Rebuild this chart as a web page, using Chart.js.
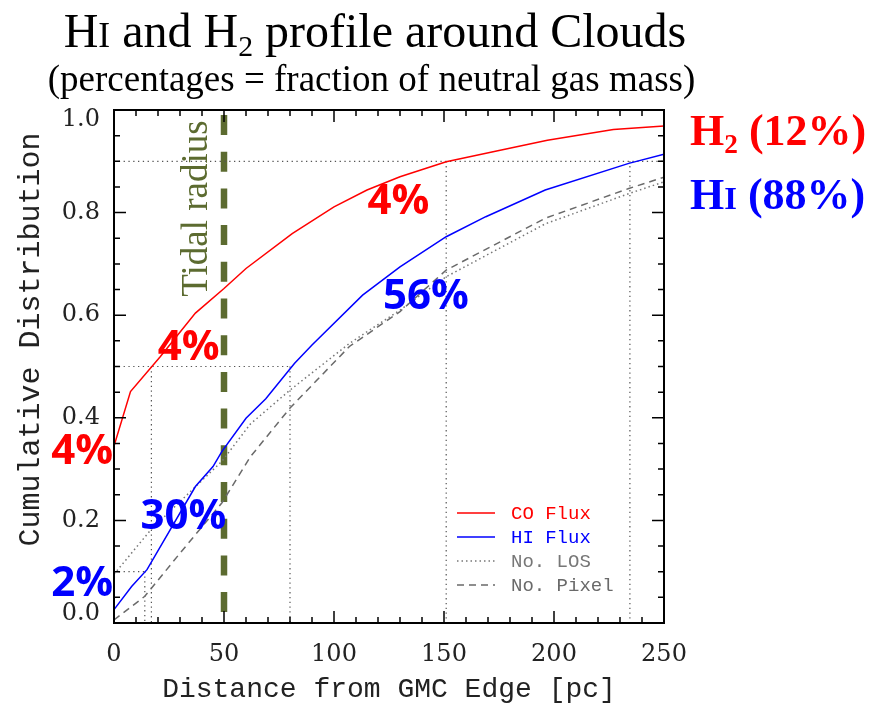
<!DOCTYPE html>
<html>
<head>
<meta charset="utf-8">
<script src="https://cdn.jsdelivr.net/npm/chart.js@4"></script>
<style>
  body { margin: 0; background: #fff; }
  #wrap { position: relative; width: 888px; height: 706px; }
  #chart { position: absolute; left: 0; top: 0; }
  .txt { position: absolute; white-space: nowrap; font-family: 'Liberation Serif', serif; line-height: 1; }
  .sc { font-size: 0.74em; }
  sub { font-size: 0.62em; line-height: 0; vertical-align: -0.3em; }
</style>
</head>
<body>
<div id="wrap">
  <canvas id="chart" width="888" height="706"></canvas>
  <div class="txt" style="left:0; width:750px; text-align:center; top:7px; font-size:48px">H<span class="sc">I</span> and H<sub>2</sub> profile around Clouds</div>
  <div class="txt" style="left:0; width:743px; text-align:center; top:60px; font-size:37px">(percentages = fraction of neutral gas mass)</div>
  <div class="txt" style="left:690px; top:109px; font-size:44px; font-weight:bold; color:#f00">H<sub>2</sub> (12%)</div>
  <div class="txt" style="left:690px; top:173px; font-size:44px; font-weight:bold; color:#00f">H<span class="sc">I</span> (88%)</div>
</div>
<script>
// cumulative distributions vs distance from GMC edge [pc]
const coX = [0, 7.5, 21, 37, 50, 60, 81, 100, 115, 130, 151, 175, 197, 227, 250]
const coY = [0.345, 0.451, 0.519, 0.604, 0.652, 0.691, 0.759, 0.811, 0.844, 0.870, 0.899, 0.921, 0.941, 0.962, 0.969]

const hiX = [0, 8, 15, 37, 45, 49, 60, 69, 76, 82, 90, 113, 130, 151, 169, 196, 234, 250]
const hiY = [0.026, 0.071, 0.104, 0.266, 0.305, 0.334, 0.399, 0.437, 0.474, 0.506, 0.542, 0.639, 0.694, 0.753, 0.792, 0.844, 0.896, 0.914]

const losX = [0, 17, 49, 62, 80, 107, 130, 151, 196, 234, 250]
const losY = [0.095, 0.183, 0.315, 0.388, 0.454, 0.545, 0.610, 0.675, 0.778, 0.837, 0.860]

const pixX = [0, 14, 30, 49, 62, 80, 107, 130, 151, 196, 234, 250]
const pixY = [0.006, 0.052, 0.136, 0.234, 0.324, 0.419, 0.539, 0.607, 0.688, 0.789, 0.847, 0.869]

// 10/50/90% levels and where the flux curves cross them
const levels = [0.1, 0.5, 0.9]
const levelEnds = [14, 80, 250]
const coCross = [null, 17, 151]
const hiCross = [14, 80, 234.5]

const tidalRadius = 50

// mass fractions written on the curves
const coShares = ['4%', '4%', '4%']
const hiShares = ['2%', '30%', '56%']

// where the fraction labels sit, in data units
const coSharePos = [[-14.5, 0.334], [33.9, 0.536], [129.3, 0.82]]
const hiSharePos = [[-14.5, 0.075], [31.6, 0.207], [141.8, 0.635]]

const pts = (xs, ys) => xs.map((x, i) => ({x: x, y: ys[i]}))

const red = '#ff0000'
const blue = '#0000ff'
const grey = '#777777'
const olive = '#5c6b30'

let datasets = [
  {label: 'CO Flux', data: pts(coX, coY), borderColor: red, borderWidth: 1.5},
  {label: 'HI Flux', data: pts(hiX, hiY), borderColor: blue, borderWidth: 1.5},
  {label: 'No. LOS', data: pts(losX, losY), borderColor: grey, borderWidth: 1.5, borderDash: [1.5, 3]},
  {label: 'No. Pixel', data: pts(pixX, pixY), borderColor: '#6a6a6a', borderWidth: 1.5, borderDash: [7, 5]},
]

// dotted guide lines at each level
let guides = []
levels.forEach((lv, i) => {
  guides.push([{x: 0, y: lv}, {x: levelEnds[i], y: lv}])
  ;[coCross[i], hiCross[i]].forEach(c => {
    if(c != null) guides.push([{x: c, y: lv}, {x: c, y: 0}])
  })
})
guides.forEach(g => {
  datasets.push({label: '', data: g, borderColor: '#555', borderWidth: 1.2, borderDash: [1.3, 3.5]})
})

// tidal radius
datasets.push({
  label: 'Tidal radius',
  data: [{x: tidalRadius, y: 1}, {x: tidalRadius, y: 0}],
  borderColor: olive, borderWidth: 6.5, borderDash: [20, 16.7], borderDashOffset: 31.7
})

const innerTicks = {
  id: 'innerTicks',
  afterDraw(chart) {
    const {ctx, chartArea: a, scales} = chart
    ctx.save()
    ctx.strokeStyle = '#000'
    ctx.lineWidth = 2
    ctx.strokeRect(a.left, a.top, a.right - a.left, a.bottom - a.top)
    ctx.lineWidth = 1.5
    ctx.beginPath()
    scales.x.ticks.forEach(t => {
      let px = scales.x.getPixelForValue(t.value)
      let len = t.value % 50 === 0 ? 12 : 6
      ctx.moveTo(px, a.bottom); ctx.lineTo(px, a.bottom - len)
      ctx.moveTo(px, a.top); ctx.lineTo(px, a.top + len)
    })
    scales.y.ticks.forEach(t => {
      let py = scales.y.getPixelForValue(t.value)
      let len = Math.round(t.value * 100) % 20 === 0 ? 12 : 6
      ctx.moveTo(a.left, py); ctx.lineTo(a.left + len, py)
      ctx.moveTo(a.right, py); ctx.lineTo(a.right - len, py)
    })
    ctx.stroke()
    ctx.restore()
  }
}

const labelsPlugin = {
  id: 'labelsPlugin',
  afterDatasetsDraw(chart) {
    const {ctx, chartArea: a, scales} = chart
    ctx.save()

    // legend, lower right inside the frame
    let lx = a.right - 207, ly = a.bottom - 110
    chart.data.datasets.slice(0, 4).forEach((ds, i) => {
      let y = ly + i * 24
      ctx.strokeStyle = ds.borderColor
      ctx.lineWidth = 1.5
      ctx.setLineDash(ds.borderDash || [])
      ctx.beginPath(); ctx.moveTo(lx, y); ctx.lineTo(lx + 38, y); ctx.stroke()
      ctx.setLineDash([])
      ctx.fillStyle = ds.borderColor
      ctx.font = '19px "Liberation Mono"'
      ctx.textAlign = 'left'
      ctx.textBaseline = 'middle'
      ctx.fillText(ds.label, lx + 54, y + 1)
    })

    // tidal radius label
    ctx.fillStyle = olive
    ctx.font = '37px "Liberation Serif"'
    ctx.translate(scales.x.getPixelForValue(tidalRadius) - 17.5, scales.y.getPixelForValue(0.636))
    ctx.rotate(-Math.PI / 2)
    ctx.textAlign = 'left'
    ctx.textBaseline = 'alphabetic'
    ctx.fillText('Tidal radius', 0, 0)
    ctx.setTransform(1, 0, 0, 1, 0, 0)

    // mass fractions
    ctx.font = 'bold 42px "Open Sans"'
    ctx.textAlign = 'center'
    ctx.textBaseline = 'middle'
    const put = (txt, pos, col) => {
      ctx.fillStyle = col
      ctx.fillText(txt, scales.x.getPixelForValue(pos[0]), scales.y.getPixelForValue(pos[1]))
    }
    coShares.forEach((s, i) => put(s, coSharePos[i], red))
    hiShares.forEach((s, i) => put(s, hiSharePos[i], blue))
    ctx.restore()
  }
}

new Chart(document.getElementById('chart'), {
  type: 'line',
  data: {datasets: datasets},
  options: {
    responsive: false,
    animation: false,
    layout: {padding: {top: 110, right: 224, left: 0, bottom: 0}},
    plugins: {legend: {display: false}, tooltip: {enabled: false}},
    elements: {point: {radius: 0}, line: {tension: 0, fill: false}},
    scales: {
      x: {
        type: 'linear', min: 0, max: 250,
        grid: {display: false, drawTicks: false},
        border: {display: false},
        ticks: {
          stepSize: 10, autoSkip: false, maxRotation: 0, padding: 17,
          font: {family: 'DejaVu Serif', size: 24}, color: '#222',
          callback: v => v % 50 === 0 ? String(v) : ''
        },
        title: {display: true, text: 'Distance from GMC Edge [pc]', font: {family: 'Liberation Mono', size: 28}, color: '#222', padding: {top: 0, bottom: 0}},
        afterFit: s => { s.height = 83 }
      },
      y: {
        min: 0, max: 1,
        grid: {display: false, drawTicks: false},
        border: {display: false},
        ticks: {
          stepSize: 0.05, autoSkip: false, padding: 14,
          font: {family: 'DejaVu Serif', size: 24, lineHeight: 0.8}, color: '#222',
          callback: v => {
            let n = Math.round(v * 100)
            if(n % 20 !== 0) return ''
            let s = (n / 100).toFixed(1)
            // end labels sit inside the axis range
            if(n === 0) return [s, '']
            if(n === 100) return ['', s]
            return s
          }
        },
        title: {display: true, text: '   Cumulative Distribution', font: {family: 'Liberation Mono', size: 30}, color: '#222', padding: {top: 13, bottom: 0}},
        afterFit: s => { s.width = 114 }
      }
    }
  },
  plugins: [innerTicks, labelsPlugin]
})
</script>
</body>
</html>
